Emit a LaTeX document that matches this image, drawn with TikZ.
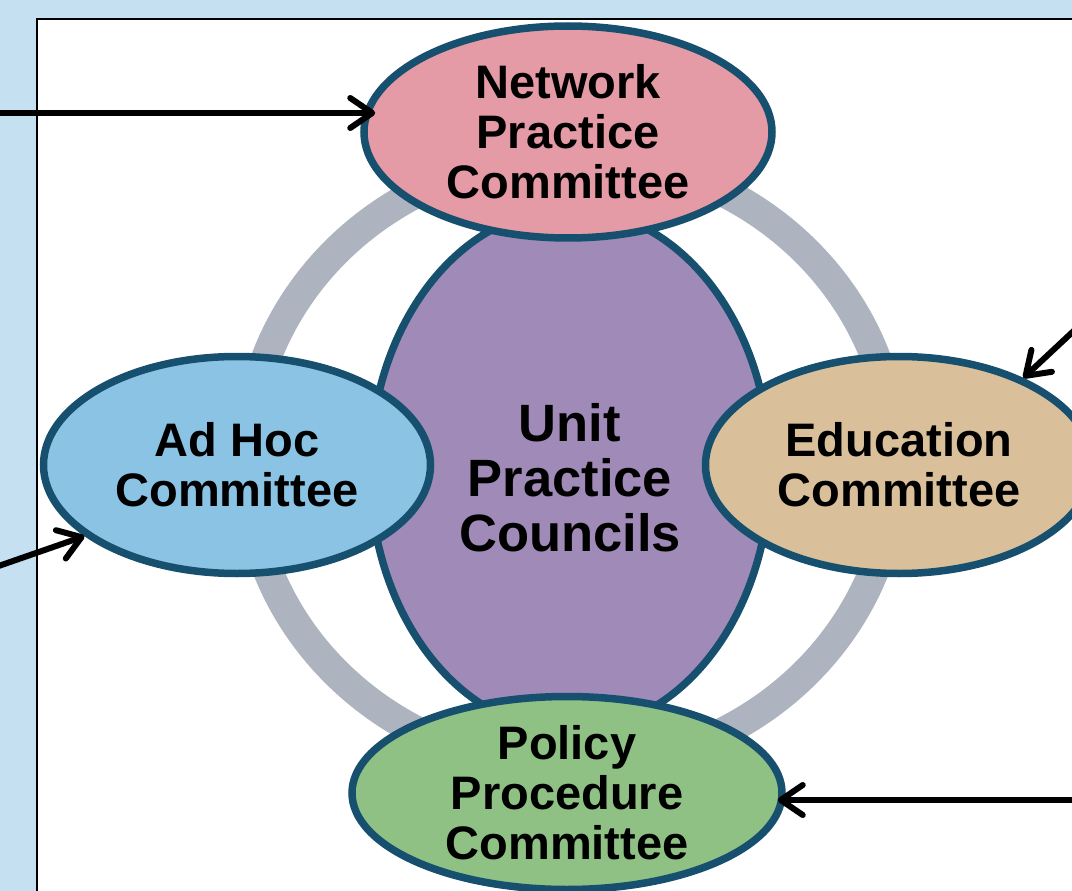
\documentclass[tikz,border=0pt]{standalone}
\usepackage{fontspec}
\setmainfont{Liberation Sans}
\usepackage{xcolor}
\usepackage{tikz}
\usetikzlibrary{shapes.geometric}
\usetikzlibrary{arrows.meta}

\definecolor{panelblue}{HTML}{C5E1F1}
\definecolor{ringgray}{HTML}{ADB4BF}
\definecolor{rimblue}{HTML}{17506F}
\definecolor{netpink}{HTML}{E59BA5}
\definecolor{unitpurple}{HTML}{A08AB8}
\definecolor{adhocblue}{HTML}{8AC3E4}
\definecolor{edutan}{HTML}{D9C09B}
\definecolor{polgreen}{HTML}{8FC185}

\begin{document}
\begin{tikzpicture}[
	x=1pt, y=-1pt,
	font=\bfseries
]
\tikzset{
    myoval/.style = {ellipse, draw=rimblue, line width=7.5pt, align=center, inner sep=0pt, font=\bfseries\fontsize{47}{50}\selectfont},
    feed/.style = {line width=6pt, line cap=round, -{Straight Barb[round,length=22pt,width=30pt]}}
}
\useasboundingbox (0,0) rectangle (1072,891);
\clip (0,0) rectangle (1072,891);
\fill[panelblue] (0,0) rectangle (1072,891);
\draw[fill=white, line width=1.5pt] (37,19) rectangle (1100,920);
\draw[ringgray, line width=30pt] (571,462) ellipse [x radius=324pt, y radius=306pt];
\node[myoval, fill=unitpurple, minimum width=400pt, minimum height=522pt,
      label={[align=center, yshift=-8pt, font=\bfseries\fontsize{52.5}{55}\selectfont]center:Unit\\Practice\\Councils}] (unit) at (570,470) {};
\node[myoval, fill=netpink, minimum width=408pt, minimum height=212pt] (net) at (568,132) {Network\\Practice\\Committee};
\node[myoval, fill=adhocblue, minimum width=387pt, minimum height=217pt] (adhoc) at (237,465) {Ad Hoc\\Committee};
\node[myoval, fill=edutan, minimum width=387pt, minimum height=217pt] (edu) at (899,465) {Education\\Committee};
\node[myoval, fill=polgreen, minimum width=430pt, minimum height=193pt] (pol) at (567,793) {Policy\\Procedure\\Committee};
\coordinate (inA) at (-10,113);
\coordinate (inB) at (1110,297);
\coordinate (inC) at (-10,569);
\coordinate (inD) at (1090,800);
\draw[feed, shorten >=-15pt] (inA) -- (inA -| net.west);
\draw[feed] (inB) -- (edu.35);
\draw[feed] (inC) -- (adhoc.205);
\draw[feed, shorten >=-8pt] (inD) -- (inD -| pol.east);
\end{tikzpicture}
\end{document}
